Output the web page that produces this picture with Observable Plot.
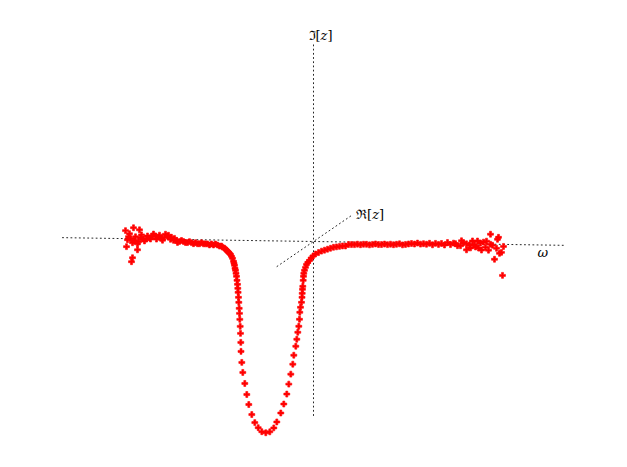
<!DOCTYPE html>
<html>
<head>
<meta charset="utf-8">
<script src="https://cdn.jsdelivr.net/npm/d3@7"></script>
<script src="https://cdn.jsdelivr.net/npm/@observablehq/plot@0.6"></script>
<style>
  html, body { margin: 0; padding: 0; background: #fff; }
  #chart svg { display: block; }
</style>
</head>
<body>
<div id="chart"></div>
<script>
// Frequency ω (arbitrary units)
const omega = [
  -188,-180,-174,-184,-186,-181,-187,-176,-176,-181,-182,-185,-178,-183,-179,-173,-175,-172,-170,-169,-167,-166,
  -164,-163,-161,-160,-158,-157,-155,-154,-152,-151,-149,-148,-146,-145,-143,-142,-140,-139,-137,-136,-134,-132,
  -130,-128,-126,-124,-122,-120,-118,-116,-114,-112,-110,-108,-106,-104,-102,-100,
  -98,-96,-94,-92,-91,-89,-88,-87,-86,-85,-84,-83,-82,-81,-80,-79.5,-79,-78.5,-78,-77.5,-77,-76.5,-76,-75.7,-75.4,
  -75,-74.7,-74.3,-74,-73.7,-73.3,-73,-72.7,-72.5,-71.7,-70.7,-68.7,-66.7,-64.7,-61.7,-58.7,-55.3,-51.7,-47.7,
  -43.7,-39.7,-36.7,-32.7,-29.7,-26.7,-24.7,-22.7,-20.7,-19.7,-17.7,-16.7,-15.7,-14.7,-14,-13.7,-13,-12,-11.5,
  -11.3,-11,-10.7,-10.3,-10,-9.7,-9,-8,-7,-5.7,-4,-2.3,-0.5,2,5,8,11,14,17,20,23,26,29,32,35,38,41,44,47,50,53,
  56,59,62,65,68,71,74,77,80,83,86,89,92,95,98,101,104,107,110,113,116,119,122,125,128,131,134,137,140,142,144,
  147,148,150,153,153,156,157,159,161,162,164,165,167,168,170,172,173,175,177,177,179,181,183,184,185,186,188,190,189
];
// Imaginary part ℑ[z] (same units)
const imag = [
  8,11,9,5,-1,-4,-8,-5,-11,-19,-23,2,2,0,-2,1,-3,4,0,-2,0,3,
  1,0,3,5,3,0,2,4,1,-1,2,5,3,4,0,2,-1,1,-1,-3,-2,-1,
  -2,-3,-3,-2,-3,-4,-3,-4,-4,-3,-4,-4,-4,-5,-4,-5,
  -4,-5,-6,-6,-7,-8,-9,-10,-11,-12,-13,-14,-16,-18,-21,-23,-25,-28,-30,-33,-36,-40,-44,-48,-52,
  -57,-62,-68,-73,-79,-86,-93,-102,-111,-122,-132,-143,-154,-164,-174,-182,-187,-191,-192,
  -191,-187,-181,-172,-163,-153,-143,-133,-123,-114,-105,-98,-91,-85,-78,-71,-66,-61,-56,
  -52,-48,-45,-39,-35,-32,-29,-26,-23,-21,-19,-16.5,-14.5,-12.5,-11,-9.5,-8.5,-7.5,-6.5,-5.5,-5,-4.5,-4,-4,-2.5,-2.5,-2.5,-2,-2.5,-2,-2,
  -2.5,-2,-1.5,-2,-2,-1.5,-2,-1.5,-2,-1.5,-1,-2,-1.5,-1,-0.5,-1,0,-1,-0.5,-1,0,-1.5,0,-1,0,-1.5,1,-1,0.5,0,-2,
  -2,3,1,0,-6,-1,-4,3,-1,-3,3,-4,1,-6,2,-3,3,-6,10,0,-1,-15,-4,5,7,-9,-8,-2,-31
];
// Axis extents (ω, ℜ[z], ℑ[z])
const omegaAxis = [-251, 252];
const realAxis = [-48, 50];
const imagAxis = [-174, 199];
// Axis labels
const labelTexts = ["ℑ[z]", "ℜ[z]", "ω"];
const labelPos = [[-5, 0, 206], [0, 56, -2], [224, 0, -8]];

// oblique projection of (ω, ℜ, ℑ) onto the page
const tilt = 0.0153, reX = 0.76, reY = 0.52;
const proj = (w, re, im) => ({x: w + reX * re, y: im - tilt * w + reY * re});

const pts = omega.map((w, i) => proj(w, 0, imag[i]));
const axes = [
  ...omegaAxis.map(w => ({...proj(w, 0, 0), k: "w"})),
  ...realAxis.map(r => ({...proj(0, r, 0), k: "r"})),
  ...imagAxis.map(m => ({...proj(0, 0, m), k: "i"}))
];
const labels = labelTexts.map((t, i) => ({...proj(...labelPos[i]), t}));

const chart = Plot.plot({
  width: 627,
  height: 467,
  margin: 0,
  x: {domain: [-313, 314], axis: null},
  y: {domain: [-226, 241], axis: null},
  style: {background: "#fff"},
  marks: [
    Plot.line(axes, {x: "x", y: "y", z: "k", stroke: "#000", strokeWidth: 1, strokeDasharray: "1,3.2", strokeOpacity: 0.85}),
    Plot.dot(pts, {x: "x", y: "y", symbol: "cross", r: 2.5, fill: "#ff0000", stroke: "#ff0000", strokeWidth: 0.6}),
    Plot.text(labels, {x: "x", y: "y", text: "t", textAnchor: "start", lineAnchor: "middle",
      fontSize: 13, fontFamily: "DejaVu Serif, Liberation Serif, serif", fill: "#000"})
  ]
});
// italicise z and ω in the labels
chart.querySelectorAll("text").forEach(t => {
  const s = t.textContent;
  if (s.includes("[z]")) {
    t.innerHTML = s.replace("[z]", '[<tspan font-style="italic">z</tspan>]');
  } else if (s === "ω") {
    t.setAttribute("font-style", "italic");
  }
});
document.getElementById("chart").appendChild(chart);
</script>
</body>
</html>
